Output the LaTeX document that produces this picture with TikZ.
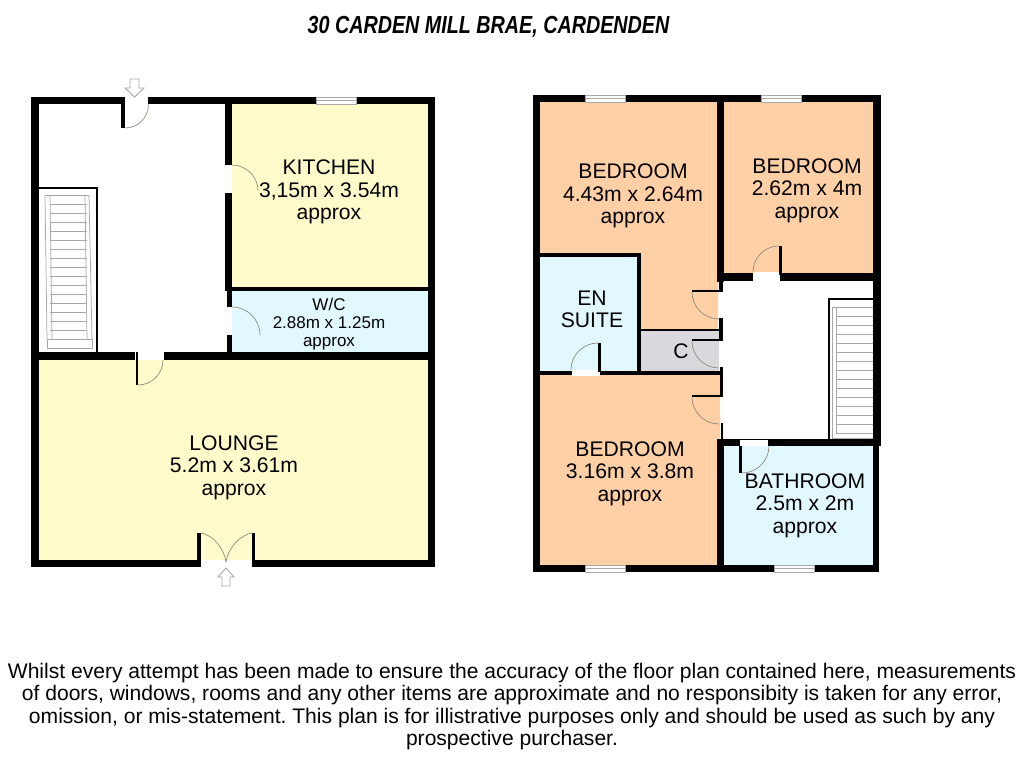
\documentclass[tikz,border=0pt]{standalone}
\usepackage{fontspec}
\usepackage{graphicx}
\setmainfont{Liberation Sans}
\frenchspacing
\definecolor{roomyellow}{HTML}{FFFBCB}
\definecolor{roomorange}{HTML}{FFCFA6}
\definecolor{roomcyan}{HTML}{E2F8FF}
\definecolor{roomgrey}{HTML}{D9D8DD}
\definecolor{arcgrey}{HTML}{8A8A7A}
\definecolor{stairgrey}{HTML}{A8A8A8}
\tikzset{
  wall/.style={fill=black},
  doorarc/.style={draw=arcgrey,line width=0.5pt},
  tread/.style={draw=stairgrey,line width=0.55pt},
  stairbox/.style={draw=black,line width=1.5pt},
  windowpane/.style={fill=white,draw=stairgrey,line width=0.5pt},
  entry/.style={draw=stairgrey,fill=white,line width=0.7pt},
  roomtext/.style={align=center,font=\fontsize{15.85}{16.9}\selectfont,inner sep=0pt,text=black},
  smalltext/.style={align=center,font=\fontsize{12.75}{13.5}\selectfont,inner sep=0pt,text=black},
}
\begin{document}
\begin{tikzpicture}[x=0.75pt,y=-0.75pt]
\useasboundingbox (0,0) rectangle (1024,768);
\fill[white] (0,0) rectangle (1024,768);
% --- room fills, ground floor
\fill[roomyellow] (232,104) rectangle (429,288);
\fill[roomcyan] (232,291) rectangle (429,352);
\fill[roomyellow] (39,360) rectangle (429,560);
% --- room fills, first floor
\fill[roomorange] (540,102) rectangle (718,371);
\fill[roomorange] (724,102) rectangle (874,274);
\fill[roomcyan] (540,257) rectangle (637,371);
\fill[roomgrey] (641,331) rectangle (719,371);
\fill[roomorange] (540,375) rectangle (720,565);
\fill[roomcyan] (724,446) rectangle (874,565);
\fill[white] (720,281) rectangle (873,292);
% --- ground floor walls
\fill[wall] (31,97) rectangle (125,104);
\fill[wall] (121,97) rectangle (125,128);
\fill[wall] (148,97) rectangle (435,104);
\fill[wall] (31,97) rectangle (39,567);
\fill[wall] (225,97) rectangle (232,165);
\fill[wall] (225,193) rectangle (232,291);
\fill[wall] (227,291) rectangle (232,307);
\fill[wall] (227,335) rectangle (232,354);
\fill[wall] (232,287) rectangle (430,291);
\fill[wall] (428,97) rectangle (435,567);
\fill[wall] (31,352) rectangle (135,360);
\fill[wall] (136,352) rectangle (138,385);
\fill[wall] (164,352) rectangle (435,360);
\fill[wall] (31,560) rectangle (198,567);
\fill[wall] (197,533) rectangle (201,567);
\fill[wall] (252,533) rectangle (255,567);
\fill[wall] (254,560) rectangle (435,567);
% windows, ground floor
\fill[windowpane] (316,97) rectangle (356,104);
\draw[stairgrey,line width=0.5pt] (316,100.5) -- (356,100.5);
% doors, ground floor
\draw[doorarc] (125,128) arc[start angle=90,end angle=0,radius=23.5];
\draw[doorarc] (232,165) arc[start angle=-90,end angle=0,radius=26];
\draw[doorarc] (232,307) arc[start angle=-90,end angle=0,radius=28];
\draw[doorarc] (138,385) arc[start angle=90,end angle=0,radius=25];
\draw[doorarc] (201,533) .. controls (213,535) and (224,548) .. (226,562);
\draw[doorarc] (252,533) .. controls (240,535) and (228,548) .. (226,562);
% stairs, ground floor
\draw[stairbox] (39,188) -- (97,188) -- (97,352);
\foreach \y in {195,204,...,339} \draw[tread] (50,\y) -- (87,\y);
\draw[tread] (45,195) -- (89,195);
\draw[tread] (45,195) -- (47,339);
\draw[tread] (50,195) -- (52,339);
\draw[tread] (85,195) -- (87,339);
\draw[tread] (89,195) -- (92,339);
\draw[tread] (47,339) rectangle (92,348);
% entry arrows
\draw[entry] (130,79) -- (139,79) -- (139,88) -- (144,88) -- (134.5,97) -- (125,88) -- (130,88) -- cycle;
\draw[entry] (226,568) -- (234,577) -- (230,577) -- (230,586) -- (222,586) -- (222,577) -- (218,577) -- cycle;
% --- first floor walls
\fill[wall] (533,95) rectangle (881,102);
\fill[wall] (533,95) rectangle (540,572);
\fill[wall] (717,95) rectangle (724,282);
\fill[wall] (873,95) rectangle (881,446);
\fill[wall] (717,273) rectangle (753,281);
\fill[wall] (753,273) rectangle (782,281);
\fill[wall] (782,273) rectangle (881,281);
\fill[white] (753,272) rectangle (780,281);
\fill[wall] (779,246) rectangle (782,275);
\fill[wall] (719,281) rectangle (723,292);
\fill[wall] (692,290) rectangle (723,292);
\fill[wall] (719,318) rectangle (723,341);
\fill[wall] (641,329) rectangle (723,331);
\fill[wall] (692,339) rectangle (723,341);
\fill[wall] (533,253) rectangle (641,257);
\fill[wall] (637,253) rectangle (641,375);
\fill[wall] (533,371) rectangle (723,375);
\fill[white] (572,370) rectangle (600,375.5);
\fill[wall] (598,343) rectangle (601,372);
\fill[wall] (720,367) rectangle (723,397);
\fill[wall] (692,395) rectangle (723,397);
\fill[wall] (721,423) rectangle (723,440);
\fill[wall] (717,439) rectangle (881,446);
\fill[white] (740,439.5) rectangle (768,446);
\fill[wall] (739,446) rectangle (742,473);
\fill[wall] (717,439) rectangle (724,572);
\fill[wall] (873,446) rectangle (879,572);
\fill[wall] (533,565) rectangle (879,572);
% windows, first floor
\foreach \xa/\ya in {585/95,761/95,585/565,774/565}{
  \fill[windowpane] (\xa,\ya) rectangle ++(40,7);
  \draw[stairgrey,line width=0.5pt] (\xa,\ya+3.5) -- ++(40,0);
}
% doors, first floor
\draw[doorarc] (779,246) arc[start angle=-90,end angle=-180,radius=26];
\draw[doorarc] (692,292) arc[start angle=180,end angle=90,radius=27];
\draw[doorarc] (692,341) arc[start angle=180,end angle=90,radius=27];
\draw[doorarc] (692,397) arc[start angle=180,end angle=90,radius=27];
\draw[doorarc] (598,343) arc[start angle=-90,end angle=-180,radius=27];
\draw[doorarc] (742,473) arc[start angle=90,end angle=0,radius=27];
% stairs, first floor
\draw[stairbox] (873,299) -- (829,299) -- (829,440);
\foreach \y in {307,316,...,433} \draw[tread] (836,\y) -- (873,\y);
\draw[tread] (832,307) -- (832,438) -- (873,438);
\draw[tread] (836,307) -- (836,433);
\draw[tread] (832,307) -- (836,307);
% --- labels
\node[font=\bfseries\itshape\fontsize{18.5}{20}\selectfont,inner sep=0pt] (title) at (488.5,26.5) {\scalebox{0.80}[1]{30 CARDEN MILL BRAE, CARDENDEN}};
\node[roomtext] (kitchen) at (329,192) {KITCHEN\\3,15m x 3.54m\\approx};
\node[smalltext] (wc) at (329,324) {W/C\\2.88m x 1.25m\\approx};
\node[roomtext] (lounge) at (234,467.5) {LOUNGE\\5.2m x 3.61m\\approx};
\node[roomtext] (bedrooma) at (633,196) {BEDROOM\\4.43m x 2.64m\\approx};
\node[roomtext] (bedroomb) at (807,190.5) {BEDROOM\\2.62m x 4m\\approx};
\node[roomtext] (ensuite) at (592,309.5) {EN\\SUITE};
\node[roomtext] (cupboard) at (681,351) {C};
\node[roomtext] (bedroomc) at (630,473.5) {BEDROOM\\3.16m x 3.8m\\approx};
\node[roomtext] (bathroom) at (805,505.5) {BATHROOM\\2.5m x 2m\\approx};
\node[align=center,inner sep=0pt,font=\fontsize{15.8}{16.9}\selectfont] (disclaimer) at (512,706.5) {Whilst every attempt has been made to ensure the accuracy of the floor plan contained here, measurements\\of doors, windows, rooms and any other items are approximate and no responsibity is taken for any error,\\omission, or mis-statement. This plan is for illistrative purposes only and should be used as such by any\\prospective purchaser.};
\end{tikzpicture}
\end{document}
